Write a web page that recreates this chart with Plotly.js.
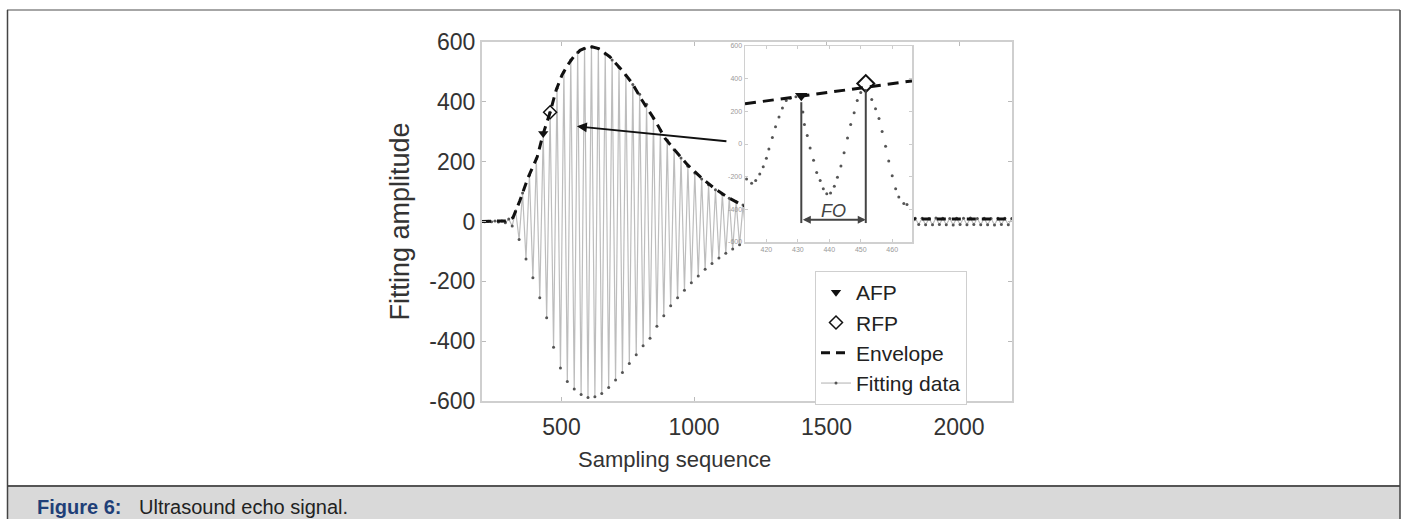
<!DOCTYPE html>
<html>
<head>
<meta charset="utf-8">
<script src="https://cdn.plot.ly/plotly-3.0.1.min.js"></script>
<style>html,body{margin:0;padding:0;background:#fff;}#chart{width:1407px;height:519px;}</style>
</head>
<body>
<div id="chart"></div>
<script>
// ---- Main signal: extremes of the fitted echo (sample index, amplitude) ----
const fitX = [197,210,223,236,249,262,275,288,301,314,327,340,353,366,379,392,405,418,431,444,457,470,483,496,509,522,535,548,561,574,587,600,613,626,639,652,665,678,691,704,717,730,743,756,769,782,795,808,821,834,847,860,873,886,899,912,925,938,951,964,977,990,1003,1016,1029,1042,1055,1068,1081,1094,1107,1120,1133,1146,1159,1172,1185,1198,1211,1224,1237,1250,1263,1276,1289,1302,1315,1328,1341,1354,1367,1380,1393,1406,1419,1432,1445,1458,1471,1484,1497,1510,1523,1536,1549,1562,1575,1588,1601,1614,1627,1640,1653,1666,1679,1692,1705,1718,1731,1744,1757,1770,1783,1796,1809,1822,1835,1848,1861,1874,1887,1900,1913,1926,1939,1952,1965,1978,1991,2004,2017,2030,2043,2056,2069,2082,2095,2108,2121,2134,2147,2160,2173,2186,2199];
const fitY = [1,-1,1,-1,2,-2,2,-4,8,-15,35,-60,95,-125,155,-188,210,-255,294,-322,365,-420,445,-490,500,-535,540,-560,565,-578,578,-588,583,-586,578,-575,560,-555,540,-530,515,-505,488,-475,458,-445,425,-415,392,-390,345,-350,305,-315,272,-282,240,-255,212,-230,185,-205,162,-182,142,-160,123,-140,106,-122,91,-106,78,-92,66,-78,55,-66,46,-54,38,-44,31,-36,25,-28,20,-22,17,-18,14,-15,12,-13,11,-12,10,-11,11,-12,10,-11,12,-10,11,-11,10,-12,11,-10,12,-11,10,-11,11,-12,10,-10,11,-11,12,-10,11,-11,10,-12,11,-10,11,-11,10,-11,12,-10,11,-11,10,-12,11,-10,11,-11,12,-10,10,-11,11,-11,10,-12,11,-10,11,-11,10];

// ---- Envelope (upper) ----
const envX = [200,290,317,343,374,408,431,457,480,502,525,545,570,595,615,640,665,683,705,728,766,804,853,891,928,975,1023,1075,1125,1175,1225,1300,1400,1500,1700,1900,2200];
const envY = [0,2,13,70,147,215,294,365,440,490,525,550,572,582,584,578,562,550,528,506,463,405,338,278,238,190,150,112,82,58,40,22,12,9,8,8,8];

// ---- Feature points ----
const afpX = [431], afpY = [294];
const rfpX = [457], rfpY = [365];

// ---- Inset (zoomed view) ----
const inX = [413.7,415.3,416.6,417.9,419.0,420.0,420.8,421.9,422.9,424.0,425.1,426.3,427.6,429.4,431.6,432.1,433.0,433.9,435.0,436.0,437.1,438.1,439.2,440.4,441.6,442.6,443.7,444.7,445.8,446.8,447.9,448.9,450.0,453.5,454.7,455.8,456.8,457.9,458.9,460.0,461.1,462.1,463.7,464.7];
const inY = [-214,-240,-224,-184,-140,-88,-30,40,106,166,220,266,280,290,196,120,52,-24,-100,-174,-224,-274,-304,-300,-258,-204,-134,-54,36,120,192,266,316,272,216,156,76,-14,-104,-194,-274,-324,-364,-370];
const inEnvX = [413.2,466.3], inEnvY = [246,386];
const inAfpX = [431.1], inAfpY = [296];
const inRfpX = [451.6], inRfpY = [370];
const foLeft = 431.1, foRight = 451.6, foY = -464, foBottom = -484, foLeftTop = 256, foRightTop = 336;

const mainXTicks = [500,1000,1500,2000];
const mainYTicks = [-600,-400,-200,0,200,400,600];
const mainYText = ['-600','-400','-200','0','200','400','600'];
const inXTicks = [420,430,440,450,460];
const inYTicks = [-600,-400,-200,0,200,400,600];
const inYText = ['-600','-400','-200','0','200','400','600'];

const FONT = 'Liberation Sans, Arial, Helvetica, sans-serif';

const traces = [
  {x: fitX, y: fitY, type: 'scatter', mode: 'lines+markers', name: 'Fitting data',
   line: {color: '#bdbdbd', width: 1.2}, marker: {size: 3, color: '#555'}, legendrank: 4, xaxis: 'x', yaxis: 'y'},
  {x: envX, y: envY, type: 'scatter', mode: 'lines', name: 'Envelope', line: {color: '#111', width: 3, dash: '9px,6px'},
   legendrank: 3, xaxis: 'x', yaxis: 'y'},
  {x: afpX, y: afpY, type: 'scatter', mode: 'markers', name: 'AFP', marker: {symbol: 'triangle-down', size: 9, color: '#111'},
   legendrank: 1, xaxis: 'x', yaxis: 'y'},
  {x: rfpX, y: rfpY, type: 'scatter', mode: 'markers', name: 'RFP', marker: {symbol: 'diamond-open', size: 10, color: '#111', line: {width: 1.5}},
   legendrank: 2, xaxis: 'x', yaxis: 'y'},
  // inset
  {x: inX, y: inY, type: 'scatter', mode: 'markers', showlegend: false, marker: {size: 3, color: '#555'}, xaxis: 'x2', yaxis: 'y2'},
  {x: inEnvX, y: inEnvY, type: 'scatter', mode: 'lines', showlegend: false, line: {color: '#111', width: 3, dash: '11px,7px'}, xaxis: 'x2', yaxis: 'y2'},
  {x: inAfpX, y: inAfpY, type: 'scatter', mode: 'markers', showlegend: false, marker: {symbol: 'triangle-down', size: 11, color: '#111'}, xaxis: 'x2', yaxis: 'y2'},
  {x: inRfpX, y: inRfpY, type: 'scatter', mode: 'markers', showlegend: false, marker: {symbol: 'diamond-open', size: 13, color: '#111', line: {width: 2}}, xaxis: 'x2', yaxis: 'y2'}
];

// pixel -> paper helpers (plot area: x 482..1012, y 42..401)
const PX = p => (p - 482) / 530;
const PY = p => (401 - p) / 359;

const layout = {
  width: 1407, height: 519,
  margin: {l: 482, r: 395, t: 42, b: 118, pad: 0},
  paper_bgcolor: '#fff', plot_bgcolor: '#fff',
  font: {family: FONT, color: '#333'},
  showlegend: true,
  legend: {x: PX(815), y: PY(271), xanchor: 'left', yanchor: 'top', bgcolor: '#fff', bordercolor: '#cfcfcf', borderwidth: 1,
           font: {size: 21, color: '#222', family: FONT}, itemwidth: 30, tracegroupgap: 0},
  xaxis: {domain: [0, 1], range: [200, 2200], tickvals: mainXTicks, ticks: 'inside', ticklen: 4, tickcolor: '#bbb',
          showline: true, linecolor: '#cfcfcf', linewidth: 2, mirror: 'ticks', showgrid: false, zeroline: false,
          ticklabelstandoff: 4, tickfont: {size: 23, color: '#333'}},
  yaxis: {domain: [0, 1], range: [-600, 600], tickvals: mainYTicks, ticktext: mainYText, ticks: 'inside', ticklen: 4, tickcolor: '#bbb',
          showline: true, linecolor: '#cfcfcf', linewidth: 2, mirror: 'ticks', showgrid: false, zeroline: false,
          tickfont: {size: 23, color: '#333'}, title: {text: 'Fitting amplitude', font: {size: 27, color: '#333'}, standoff: 12}},
  xaxis2: {domain: [PX(745), PX(912)], anchor: 'y2', range: [413.2, 466.3], tickvals: inXTicks, ticks: 'inside', ticklen: 3,
           tickcolor: '#ccc', showline: true, linecolor: '#d0d0d0', linewidth: 1.5, mirror: 'ticks', showgrid: false, zeroline: false,
           tickfont: {size: 7, color: '#999'}},
  yaxis2: {domain: [PY(242), PY(46)], anchor: 'x2', range: [-600, 600], tickvals: inYTicks, ticktext: inYText, ticks: 'inside', ticklen: 3,
           tickcolor: '#ccc', showline: true, linecolor: '#d0d0d0', linewidth: 1.5, mirror: 'ticks', showgrid: false, zeroline: false,
           tickfont: {size: 7, color: '#999'}},
  shapes: [
    // caption band
    {type: 'rect', xref: 'paper', yref: 'paper', x0: PX(7), x1: PX(1400), y0: PY(530), y1: PY(486), fillcolor: '#d9d9d9', line: {width: 0}, layer: 'below'},
    {type: 'line', xref: 'paper', yref: 'paper', x0: PX(7), x1: PX(1400), y0: PY(486), y1: PY(486), line: {color: '#555', width: 2}},
    // frame
    {type: 'line', xref: 'paper', yref: 'paper', x0: PX(7), x1: PX(1400), y0: PY(10), y1: PY(10), line: {color: '#888', width: 1.5}},
    {type: 'line', xref: 'paper', yref: 'paper', x0: PX(7.5), x1: PX(7.5), y0: PY(10), y1: PY(530), line: {color: '#444', width: 1.5}},
    {type: 'line', xref: 'paper', yref: 'paper', x0: PX(1400), x1: PX(1400), y0: PY(10), y1: PY(530), line: {color: '#444', width: 1.5}},
    // inset FO markers
    {type: 'line', xref: 'x2', yref: 'y2', x0: foLeft, x1: foLeft, y0: foLeftTop, y1: foBottom, line: {color: '#444', width: 2}},
    {type: 'line', xref: 'x2', yref: 'y2', x0: foRight, x1: foRight, y0: foRightTop, y1: foBottom, line: {color: '#444', width: 2}}
  ],
  annotations: [
    {xref: 'x2', yref: 'y2', x: foRight, y: foY, axref: 'x2', ayref: 'y2', ax: foLeft, ay: foY, text: '', showarrow: true,
     arrowhead: 2, startarrowhead: 2, arrowside: 'end+start', arrowsize: 0.8, startarrowsize: 0.8, arrowwidth: 2, arrowcolor: '#444'},
    {xref: 'x2', yref: 'y2', x: (foLeft + foRight) / 2, y: -410, text: '<i>FO</i>', showarrow: false,
     font: {size: 18, color: '#444', family: FONT}},
    // pointer arrow from inset to main curve
    {xref: 'x', yref: 'y', x: 558, y: 318, axref: 'x', ayref: 'y', ax: 1128, ay: 268, text: '', showarrow: true,
     arrowhead: 2, arrowsize: 1, arrowwidth: 2, arrowcolor: '#111'},
    // x-axis title (placed as in the original figure)
    {xref: 'paper', yref: 'paper', x: PX(674), y: PY(459), xanchor: 'center', yanchor: 'middle', showarrow: false,
     text: 'Sampling sequence', font: {size: 22, color: '#333', family: FONT}},
    // caption
    {xref: 'paper', yref: 'paper', x: PX(35), y: PY(507), xanchor: 'left', yanchor: 'middle', showarrow: false,
     text: '<b>Figure 6:</b>', font: {size: 20, color: '#1f3f78', family: FONT}},
    {xref: 'paper', yref: 'paper', x: PX(137), y: PY(507), xanchor: 'left', yanchor: 'middle', showarrow: false,
     text: 'Ultrasound echo signal.', font: {size: 20, color: '#222', family: FONT}}
  ]
};

Plotly.newPlot('chart', traces, layout, {displayModeBar: false, staticPlot: true});
</script>
</body>
</html>
